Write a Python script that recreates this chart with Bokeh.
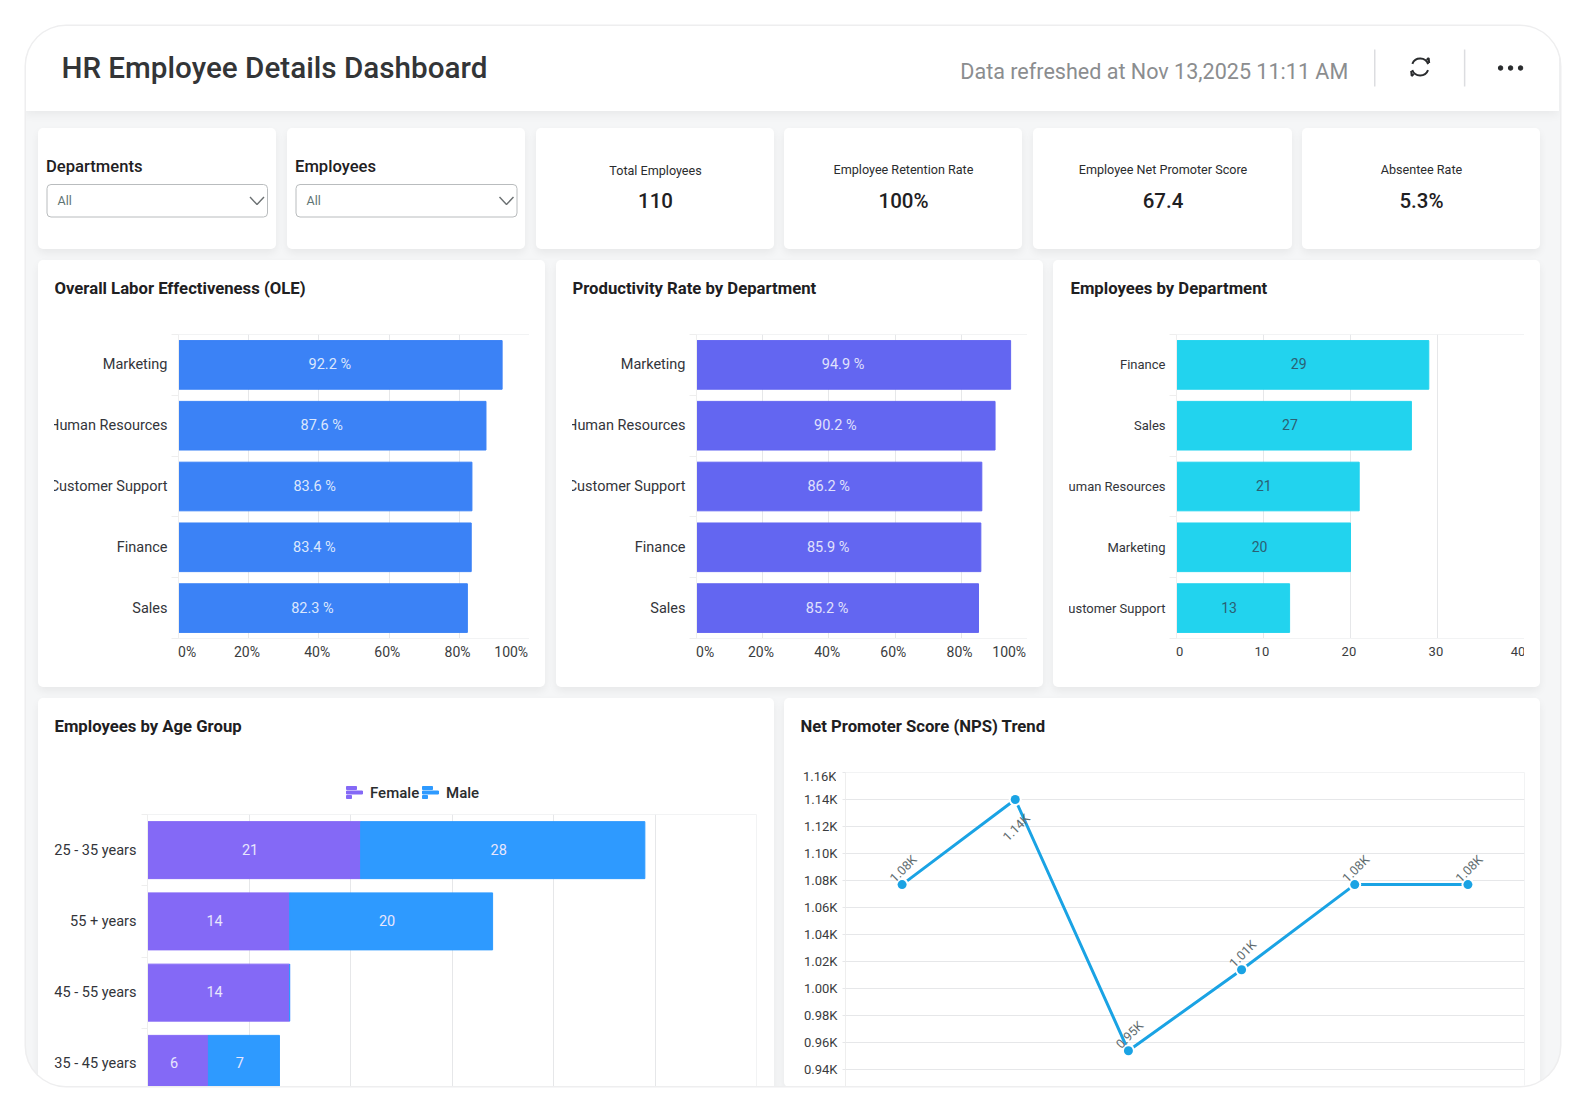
from bokeh.core.properties import value
from bokeh.embed import file_html
from bokeh.resources import INLINE
from bokeh.models import (Column, ColumnDataSource, Range1d, LinearAxis, FixedTicker)
from bokeh.plotting import figure

# ---------- data ----------
dashboard_title = "HR Employee Details Dashboard"
refreshed_text = "Data refreshed at Nov 13,2025 11:11 AM"
filter_names = ["Departments", "Employees"]
kpi_names = ["Total Employees", "Employee Retention Rate", "Employee Net Promoter Score", "Absentee Rate"]
kpi_values = ["110", "100%", "67.4", "5.3%"]

ole_departments = ["Marketing", "Human Resources", "Customer Support", "Finance", "Sales"]
ole_values = [92.2, 87.6, 83.6, 83.4, 82.3]
prod_departments = ["Marketing", "Human Resources", "Customer Support", "Finance", "Sales"]
prod_values = [94.9, 90.2, 86.2, 85.9, 85.2]
emp_departments = ["Finance", "Sales", "Human Resources", "Marketing", "Customer Support"]
emp_counts = [29, 27, 21, 20, 13]

age_groups = ["25 - 35 years", "55 + years", "45 - 55 years", "35 - 45 years"]
age_female = [21, 14, 14, 6]
age_male = [28, 20, 0, 7]

nps_values = [1077, 1140, 954, 1014, 1077, 1077]
nps_labels = ["1.08K", "1.14K", "0.95K", "1.01K", "1.08K", "1.08K"]
nps_ticks = [940, 960, 980, 1000, 1020, 1040, 1060, 1080, 1100, 1120, 1140, 1160]
nps_tick_labels = ["0.94K", "0.96K", "0.98K", "1.00K", "1.02K", "1.04K", "1.06K", "1.08K",
                   "1.10K", "1.12K", "1.14K", "1.16K"]

pct_ticks = [0, 20, 40, 60, 80, 100]
count_ticks = [0, 10, 20, 30, 40]
age_ticks = [0, 10, 20, 30, 40, 50, 60]

# ---------- style ----------
FONT = "Roboto"
FONT_M = "Roboto Medium, Roboto"
INK = "#2f3133"
GRID = "#e6e7e9"
EDGE = "#f2f3f4"
NB = "\u00a0"
FRAME_X, FRAME_Y, FRAME_W, FRAME_H = 26, 26, 1534, 1060


def place(x, y, w, h, extra=None):
    s = {"position": "absolute", "left": f"{x - FRAME_X}px", "top": f"{y - FRAME_Y}px"}
    if extra:
        s.update(extra)
    return s


def card(fig, x, y, w, h):
    return Column(children=[fig], width=w, height=h,
                  styles=place(x, y, w, h, {"background": "#ffffff", "border-radius": "5px",
                                            "box-shadow": "0 4px 9px rgba(0,0,0,0.06)"}))


def px_fig(w, h, bg=None):
    return figure(width=w, height=h, x_range=Range1d(0, w), y_range=Range1d(h, 0), x_axis_type=None, y_axis_type=None,
                  toolbar_location=None, output_backend="svg", min_border=0, outline_line_color=None,
                  background_fill_color=bg, border_fill_color=bg)


def txt(p, x, y, text, size, color=INK, align="left", font=FONT, style="normal"):
    p.text(x=[x], y=[y], text=[text], text_font=value(font), text_font_size=f"{size}px", text_color=color,
           text_align=align, text_baseline="middle", text_font_style=style)


def chart_title(text, x, y):
    """Card heading, drawn on a transparent strip above the chart."""
    t = px_fig(420, 26)
    t.styles = place(x, y - 13, 420, 26)
    txt(t, 0, 13, text, 16.7, "#1e2022", style="bold")
    return t


def band_axes(p, cats, tick_out, standoff, cat_size):
    """Left side: faint ticks between the bands, and the category names at the band centres."""
    n = len(cats)
    ticks_axis = LinearAxis(ticker=FixedTicker(ticks=list(range(n + 1))),
                            major_label_overrides={i: "" for i in range(n + 1)},
                            major_label_standoff=0, major_tick_in=0, major_tick_out=tick_out,
                            major_tick_line_color="#eeeeee", axis_line_color="#eeeeee",
                            minor_tick_line_color=None, major_label_text_font_size="1px")
    p.add_layout(ticks_axis, "left")
    centres = [n - i - 0.5 for i in range(n)]
    names_axis = LinearAxis(ticker=FixedTicker(ticks=centres), major_label_overrides=dict(zip(centres, cats)),
                            major_tick_in=0, major_tick_out=0, axis_line_color=None, minor_tick_line_color=None,
                            major_label_standoff=standoff, major_label_text_font=FONT,
                            major_label_text_font_size=f"{cat_size}px", major_label_text_color="#33353a")
    p.add_layout(names_axis, "left")
    return centres


def bar_chart(cats, vals, x, y, w, h, plot_l, plot_r, plot_t, plot_b, xmax, ticks, color, label_color,
              label_fmt, tick_fmt, lab_off, lab_dy, lab_size, cat_size, cat_standoff, tick_size, first_pad, last_pad):
    p = figure(width=w, height=h, x_range=Range1d(0, xmax), y_range=Range1d(0, len(cats)),
               y_axis_type=None, toolbar_location=None, output_backend="svg",
               min_border_left=plot_l, min_border_right=plot_r, min_border_top=plot_t, min_border_bottom=plot_b,
               background_fill_color=None, border_fill_color=None, outline_line_color=EDGE,
               styles={"clip-path": "inset(0 16px 0 16px)"})
    ax = p.xaxis[0]
    ax.ticker = FixedTicker(ticks=ticks)
    labs = {t: tick_fmt.format(t) + NB for t in ticks}
    labs[ticks[0]] = NB * first_pad + tick_fmt.format(ticks[0])
    labs[ticks[-1]] = tick_fmt.format(ticks[-1]) + NB * last_pad
    ax.major_label_overrides = labs
    ax.major_label_text_font = FONT
    ax.major_label_text_font_size = f"{tick_size}px"
    ax.major_label_text_color = "#3a3c3e"
    ax.major_tick_in = 0
    ax.major_tick_out = 0
    ax.minor_tick_line_color = None
    ax.axis_line_color = EDGE
    ax.major_label_standoff = 5
    p.xgrid.grid_line_color = GRID
    centres = band_axes(p, cats, 7, cat_standoff, cat_size)
    src = ColumnDataSource(dict(pos=centres, val=vals, mid=[v / 2 for v in vals],
                                lab=[label_fmt.format(v) for v in vals]))
    p.hbar(y="pos", right="val", left=0, height=0.8, color=color, source=src)
    p.text(x="mid", y="pos", text="lab", source=src, x_offset=lab_off, y_offset=lab_dy, text_align="center",
           text_baseline="middle", text_font=value(FONT), text_font_size=f"{lab_size}px", text_color=label_color)
    return card(p, x, y, w, h)


children = []

# header
hdr = px_fig(1536, 86, "#ffffff")
hdr.styles = place(25, 25, 1536, 86, {"box-shadow": "0 3px 10px rgba(0,0,0,0.06)"})
txt(hdr, 36, 42.5, dashboard_title, 29.6, "#333537", font=FONT_M)
txt(hdr, 936, 46, refreshed_text, 21.55, "#8b8d8f")
hdr.segment(x0=[1351, 1441], y0=[24, 24], x1=[1351, 1441], y1=[61, 61], color="#dcdde0", line_width=1.5)
hdr.arc(x=[1396.5, 1396.5], y=[41.5, 41.5], radius=8.5, start_angle=[0.35, 3.5], end_angle=[2.75, 5.9],
        direction="anticlock", color="#2a2c2e", line_width=2)
hdr.line(x=[1403, 1405, 1405.5], y=[34.5, 32.5, 37.5], color="#2a2c2e", line_width=2)
hdr.line(x=[1390, 1388, 1387.5], y=[48.5, 50.5, 45.5], color="#2a2c2e", line_width=2)
hdr.scatter(x=[1477, 1487, 1497], y=[42.5, 42.5, 42.5], size=4.5, color="#2a2c2e")
children.append(hdr)

# filters
for name, x, w in zip(filter_names, [37.5, 286.5], [238, 238.5]):
    f = px_fig(int(w), 121)
    txt(f, 7.5, 37.5, name, 16.6, "#1f2123", font=FONT_M)
    f.quad(left=[8.5], right=[w - 9], top=[56], bottom=[88.5], fill_color="#ffffff", line_color="#b9bcbe",
           line_width=1, border_radius=4)
    txt(f, 19, 72, "All", 12.5, "#5f7474")
    f.line(x=[w - 26.5, w - 19.5, w - 12.5], y=[68.5, 76, 68.5], color="#6b7072", line_width=1.4)
    children.append(card(f, x, 128, int(w), 121))

# KPI cards
for name, val, x, w in zip(kpi_names, kpi_values, [535.5, 784, 1032.5, 1302], [238, 238, 259, 238]):
    f = px_fig(w, 121)
    dy = 42 if name == kpi_names[0] else 41
    txt(f, w / 2, dy, name, 12.6, "#2a2c2e", "center")
    txt(f, w / 2, 72, val, 20.5, "#1f2123", "center", font=FONT_M)
    children.append(card(f, x, 128, w, 121))

# bar charts
children.append(bar_chart(ole_departments, ole_values, 38, 260, 507, 427, 140, 16, 74, 49, 100, pct_ticks,
                          "#3b82f6", "#dbe7fd", "{} %", "{}%", -10.5, 0, 14.5, 14.5, 4, 14, 5, 5))
children.append(bar_chart(prod_departments, prod_values, 556, 260, 487, 427, 140, 16, 74, 49, 100, pct_ticks,
                          "#6366f1", "#e0e1fc", "{} %", "{}%", -10.5, 0, 14.5, 14.5, 4, 14, 5, 5))
children.append(bar_chart(emp_departments, emp_counts, 1053, 260, 487, 427, 123, 16, 74, 49, 40, count_ticks,
                          "#22d3ee", "#2b6073", "{}", "{}", -4, -1, 14, 13, 4, 13, 2, 4))
children.append(chart_title("Overall Labor Effectiveness (OLE)", 54, 287.5))
children.append(chart_title("Productivity Rate by Department", 572, 287.5))
children.append(chart_title("Employees by Department", 1069.5, 287.5))

# age chart
ax_w, ax_h = 736, 440
age = figure(width=ax_w, height=ax_h, x_range=Range1d(0, 60), y_range=Range1d(0, len(age_groups)),
             y_axis_type=None, toolbar_location=None, output_backend="svg",
             min_border_left=109, min_border_right=18, min_border_top=116, min_border_bottom=39,
             background_fill_color=None, border_fill_color=None, outline_line_color=EDGE)
age.xaxis.visible = False
age.xaxis.ticker = FixedTicker(ticks=age_ticks)
age.xgrid.grid_line_color = GRID
age_pos = band_axes(age, age_groups, 6, 5, 14.5)
age_src = ColumnDataSource(dict(pos=age_pos, Female=age_female, Male=age_male))
age.hbar_stack(["Female", "Male"], y="pos", height=0.8, color=["#8469f6", "#2e9aff"], source=age_src)
lab_y, lab_x, lab_t = [], [], []
for g, fv, mv in zip(age_pos, age_female, age_male):
    if fv:
        lab_y.append(g); lab_x.append(fv / 2); lab_t.append(str(fv))
    if mv:
        lab_y.append(g); lab_x.append(fv + mv / 2); lab_t.append(str(mv))
age.text(x=lab_x, y=lab_y, text=lab_t, x_offset=-4, y_offset=-1, text_align="center", text_baseline="middle",
         text_font=value(FONT), text_font_size="14.5px", text_color="#e8e6fd")
children.append(card(age, 38, 698, ax_w, ax_h))
children.append(chart_title("Employees by Age Group", 54, 725.5))

# legend of the age chart
leg = px_fig(150, 28)
leg.styles = place(339.5, 779, 150, 28)
for x0, col, name, tx in [(6, "#8469f6", "Female", 29.5), (82, "#2e9aff", "Male", 105.5)]:
    leg.quad(left=[x0, x0, x0], right=[x0 + 10, x0 + 16, x0 + 5], top=[7, 11.5, 16], bottom=[10, 14.5, 19], color=col)
    txt(leg, tx, 13, name, 15, "#2a2c2e", font=FONT_M)
children.append(leg)

# NPS chart
nw, nh = 756, 389
nps = figure(width=nw, height=nh, x_range=Range1d(-0.5, 5.5), y_range=Range1d(926.8, 1160),
             toolbar_location=None, output_backend="svg",
             min_border_left=61, min_border_right=16, min_border_top=74, min_border_bottom=0,
             background_fill_color=None, border_fill_color=None, outline_line_color=EDGE)
nps.xaxis.visible = False
nps.xgrid.visible = False
yax = nps.yaxis[0]
yax.ticker = FixedTicker(ticks=nps_ticks)
over = dict(zip(nps_ticks, nps_tick_labels))
over[nps_ticks[-1]] = ""
yax.major_label_overrides = over
yax.major_label_text_font = FONT
yax.major_label_text_font_size = "13px"
yax.major_label_text_color = "#3a3c3e"
yax.major_tick_in = 0
yax.major_tick_out = 3
yax.major_tick_line_color = GRID
yax.minor_tick_line_color = None
yax.axis_line_color = "#eeeeee"
yax.major_label_standoff = 5
nps.ygrid.grid_line_color = GRID
nps.ygrid.grid_line_width = 1.2
idx = list(range(len(nps_values)))
nps_src = ColumnDataSource(dict(i=idx, v=nps_values, lab=nps_labels,
                                off=[28 if v == max(nps_values) else -16 for v in nps_values]))
nps.line(x="i", y="v", source=nps_src, color="#1aa3e4", line_width=3)
nps.scatter(x="i", y="v", source=nps_src, size=13, fill_color="#ffffff", line_color=None)
nps.scatter(x="i", y="v", source=nps_src, size=9, fill_color="#1aa3e4", line_color=None)
nps.text(x="i", y="v", text="lab", source=nps_src, y_offset="off", x_offset=1, angle=45, angle_units="deg",
         text_align="center", text_baseline="middle", text_font=value(FONT), text_font_size="12.5px",
         text_color="#5e6b6e")
children.append(card(nps, 784, 698, nw, nh))
children.append(chart_title("Net Promoter Score (NPS) Trend", 800, 725.5))
top_tick = px_fig(50, 20)
top_tick.styles = place(786, 766, 50, 20)
txt(top_tick, 50, 10, nps_tick_labels[-1], 13, "#3a3c3e", "right")
children.append(top_tick)

root = Column(children=children, width=FRAME_W, height=FRAME_H, margin=(26, 0, 0, 26),
              styles={"position": "relative", "overflow": "hidden", "border-radius": "40px", "background": "#f5f6f7",
                      "box-shadow": "0 0 0 1.5px #eeeeef"})

open("out.html", "w").write(file_html(root, INLINE))
